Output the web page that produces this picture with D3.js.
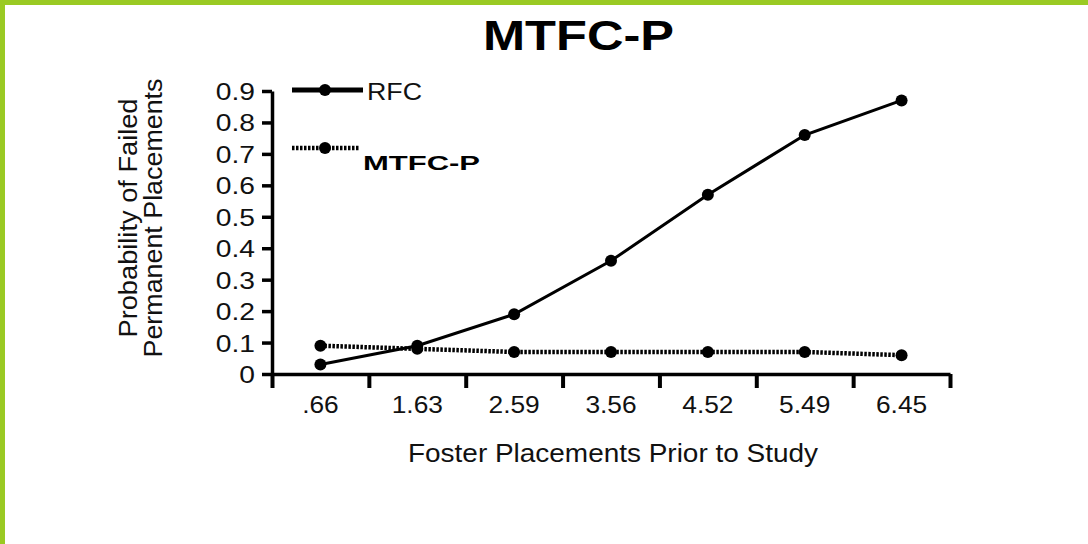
<!DOCTYPE html>
<html>
<head>
<meta charset="utf-8">
<script src="https://cdn.jsdelivr.net/npm/d3@7"></script>
<style>
  html, body { margin: 0; padding: 0; background: #fff; }
  svg { display: block; font-family: "Liberation Sans", Arial, sans-serif; }
</style>
</head>
<body>
<svg id="chart" width="1088" height="544"></svg>
<script>
const categories = [".66", "1.63", "2.59", "3.56", "4.52", "5.49", "6.45"];
const rfcValues = [0.03, 0.09, 0.19, 0.36, 0.57, 0.76, 0.87];
const mtfcValues = [0.09, 0.08, 0.07, 0.07, 0.07, 0.07, 0.06];
const yTicks = [0, 0.1, 0.2, 0.3, 0.4, 0.5, 0.6, 0.7, 0.8, 0.9];
const seriesNames = ["RFC", "MTFC-P"];
const titleText = "MTFC-P";
const xTitle = "Foster Placements Prior to Study";
const yTitleLines = ["Probability of Failed", "Permanent Placements"];

const svg = d3.select("#chart");

// green frame
svg.append("rect").attr("x", 0).attr("y", 0).attr("width", 1088).attr("height", 5).attr("fill", "#9ACA23");
svg.append("rect").attr("x", 0).attr("y", 0).attr("width", 5).attr("height", 544).attr("fill", "#9ACA23");

const plot = { left: 272, right: 950, top: 91, bottom: 374 };

const x = d3.scaleBand().domain(categories).range([plot.left, plot.right]).paddingInner(0).paddingOuter(0);
const xTickScale = d3.scaleLinear().domain([0, categories.length]).range([plot.left, plot.right]);
const y = d3.scaleLinear().domain([0, 0.9]).range([plot.bottom, plot.top]);

function stretch(sel, factor) {
  sel.each(function () {
    const w = this.getComputedTextLength();
    d3.select(this).attr("textLength", w * factor).attr("lengthAdjust", "spacingAndGlyphs");
  });
}

// title
svg.append("text")
  .attr("x", 578.5).attr("y", 50)
  .attr("text-anchor", "middle")
  .attr("font-size", 42).attr("font-weight", "bold")
  .attr("textLength", 191).attr("lengthAdjust", "spacingAndGlyphs")
  .text(titleText);

// y axis
const yAxis = svg.append("g")
  .attr("transform", `translate(${plot.left},0)`)
  .call(d3.axisLeft(y).tickValues(yTicks).tickFormat(d => d === 0 ? "0" : d3.format(".1f")(d)).tickSize(10).tickSizeOuter(0).tickPadding(7));
yAxis.select(".domain").attr("stroke", "#000").attr("stroke-width", 3.5);
yAxis.selectAll(".tick line").attr("stroke", "#000").attr("stroke-width", 3.5);
yAxis.selectAll(".tick text").attr("font-size", 23.5).attr("fill", "#111").attr("font-family", "Liberation Sans, Arial, sans-serif").attr("dy", "0.36em");
stretch(yAxis.selectAll(".tick text"), 1.2);

// x axis ticks at boundaries
const xTicksAxis = svg.append("g")
  .attr("transform", `translate(0,${plot.bottom})`)
  .call(d3.axisBottom(xTickScale).tickValues(d3.range(categories.length + 1)).tickFormat("").tickSize(14).tickSizeOuter(0));
xTicksAxis.select(".domain").attr("stroke", "#000").attr("stroke-width", 3.5);
xTicksAxis.selectAll(".tick line").attr("stroke", "#000").attr("stroke-width", 4);

// x axis labels at band centres
const xLabels = svg.append("g")
  .attr("transform", `translate(0,${plot.bottom})`)
  .call(d3.axisBottom(x).tickSize(0).tickPadding(22));
xLabels.select(".domain").remove();
xLabels.selectAll(".tick text").attr("font-size", 23.5).attr("fill", "#111").attr("font-family", "Liberation Sans, Arial, sans-serif");
stretch(xLabels.selectAll(".tick text"), 1.12);

// axis titles
svg.append("text")
  .attr("x", 613).attr("y", 462)
  .attr("text-anchor", "middle")
  .attr("font-size", 25).attr("fill", "#111")
  .attr("textLength", 410).attr("lengthAdjust", "spacingAndGlyphs")
  .text(xTitle);

const yTitleX = [137, 162];
const yTitleLen = [239, 279];
yTitleLines.forEach((t, i) => {
  svg.append("text")
    .attr("transform", `translate(${yTitleX[i]},218) rotate(-90)`)
    .attr("text-anchor", "middle")
    .attr("font-size", 25).attr("fill", "#111")
    .attr("textLength", yTitleLen[i]).attr("lengthAdjust", "spacingAndGlyphs")
    .text(t);
});

const cx = d => x(d) + x.bandwidth() / 2;
const line = d3.line().x(d => cx(d[0])).y(d => y(d[1]));

const mtfcData = categories.map((c, i) => [c, mtfcValues[i]]);
const rfcData = categories.map((c, i) => [c, rfcValues[i]]);

// MTFC-P dotted line
svg.append("path").datum(mtfcData)
  .attr("d", line).attr("fill", "none").attr("stroke", "#000")
  .attr("stroke-width", 4.5).attr("stroke-dasharray", "2.5,1.5");
svg.selectAll(".mdot").data(mtfcData).enter().append("circle")
  .attr("cx", d => cx(d[0])).attr("cy", d => y(d[1])).attr("r", 6).attr("fill", "#000");

// RFC solid line
svg.append("path").datum(rfcData)
  .attr("d", line).attr("fill", "none").attr("stroke", "#000")
  .attr("stroke-width", 3);
svg.selectAll(".rdot").data(rfcData).enter().append("circle")
  .attr("cx", d => cx(d[0])).attr("cy", d => y(d[1])).attr("r", 6).attr("fill", "#000");

// legend
const lg = svg.append("g");
lg.append("line").attr("x1", 292).attr("x2", 363).attr("y1", 90).attr("y2", 90).attr("stroke", "#000").attr("stroke-width", 5);
lg.append("circle").attr("cx", 325).attr("cy", 90).attr("r", 6).attr("fill", "#000");
lg.append("text").attr("x", 367).attr("y", 100).attr("font-size", 23).attr("fill", "#111")
  .attr("textLength", 55).attr("lengthAdjust", "spacingAndGlyphs").text(seriesNames[0]);

lg.append("line").attr("x1", 292).attr("x2", 360).attr("y1", 148).attr("y2", 148).attr("stroke", "#000").attr("stroke-width", 4.5).attr("stroke-dasharray", "2.5,1.5");
lg.append("circle").attr("cx", 325).attr("cy", 148).attr("r", 6).attr("fill", "#000");
lg.append("text").attr("x", 363).attr("y", 170).attr("font-size", 21).attr("font-weight", "bold").attr("fill", "#000")
  .attr("textLength", 117).attr("lengthAdjust", "spacingAndGlyphs").text(seriesNames[1]);
</script>
</body>
</html>
